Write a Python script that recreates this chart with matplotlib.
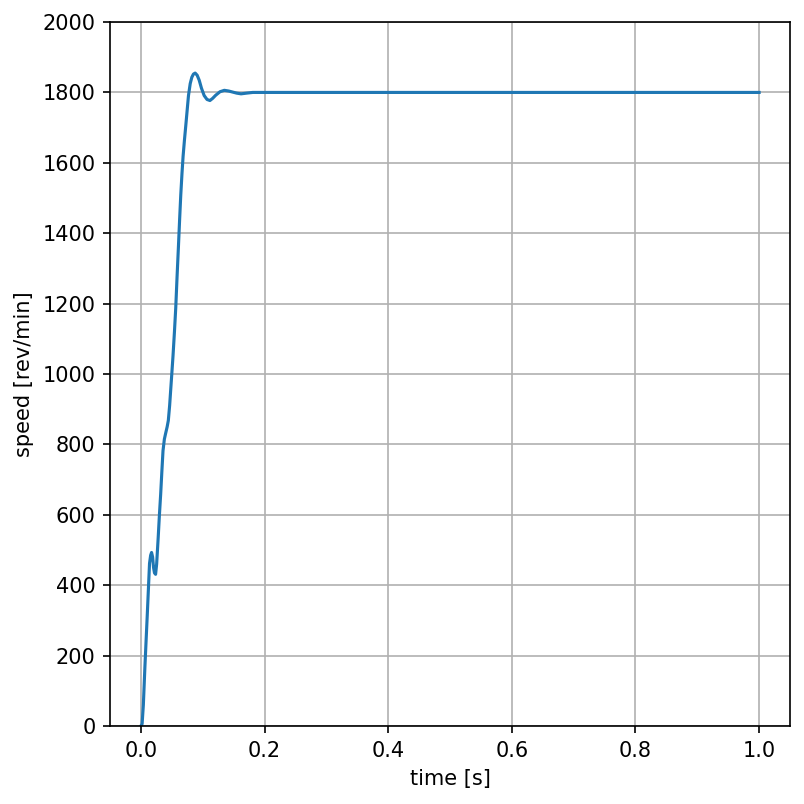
import matplotlib
matplotlib.use("Agg")
import matplotlib.pyplot as plt
from matplotlib.ticker import MultipleLocator

# speed step response
time_s = [0.0, 0.002, 0.004, 0.0065, 0.0085, 0.0103, 0.0122, 0.014, 0.0158, 0.0173,
          0.019, 0.0205, 0.022, 0.0238, 0.0255, 0.028, 0.030, 0.032, 0.034, 0.0358,
          0.038, 0.040, 0.0425, 0.0444, 0.0465, 0.0482, 0.050, 0.052, 0.0543, 0.0564,
          0.0585, 0.0607, 0.0627, 0.0645, 0.0665, 0.0683, 0.0705, 0.0726, 0.075, 0.077,
          0.0798, 0.0824, 0.085, 0.0878, 0.091, 0.0943, 0.098, 0.1024, 0.107, 0.1117,
          0.116, 0.121, 0.128, 0.135, 0.142, 0.1485, 0.155, 0.162, 0.171, 0.181,
          0.2, 0.3, 0.5, 0.7, 0.9, 1.0]
speed_rpm = [0, 6, 60, 167, 245, 314, 390, 462, 485, 493,
             480, 450, 435, 431, 460, 535, 600, 658, 725, 782,
             815, 831, 850, 868, 910, 954, 1000, 1052, 1120, 1188,
             1275, 1360, 1440, 1508, 1570, 1619, 1665, 1705, 1752, 1791,
             1825, 1843, 1852, 1855, 1849, 1835, 1812, 1791, 1780, 1777,
             1783, 1792, 1802, 1806, 1804, 1801, 1798, 1796, 1798, 1800,
             1800, 1800, 1800, 1800, 1800, 1800]

fig = plt.figure(figsize=(805 / 150, 804 / 150), dpi=150)
ax = fig.add_axes([0.1366, 0.097, 0.8448, 0.8756])
ax.plot(time_s, speed_rpm)
ax.set_ylim(0, 2000)
ax.yaxis.set_major_locator(MultipleLocator(200))
ax.set_xlabel("time [s]")
ax.set_ylabel("speed [rev/min]")
ax.grid(True)

plt.savefig("out.png", dpi=150)
